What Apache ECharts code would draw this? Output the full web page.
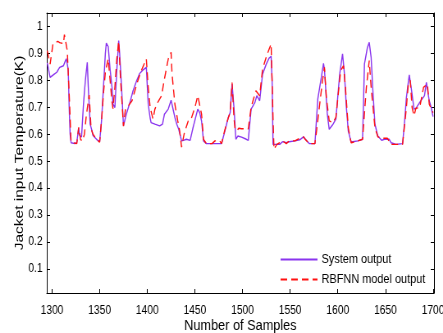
<!DOCTYPE html>
<html>
<head>
<meta charset="utf-8">
<script src="https://cdn.jsdelivr.net/npm/echarts/dist/echarts.min.js"></script>
<style>
html,body{margin:0;padding:0;background:#fff;overflow:hidden;}
#wrap{width:443px;height:333px;overflow:hidden;position:relative;}
#chart{width:540px;height:333px;transform:scaleX(0.8204);transform-origin:0 0;}
</style>
</head>
<body>
<div id="wrap"><div id="chart"></div></div>
<script>
// Tick labels
var xTicks = [1300, 1350, 1400, 1450, 1500, 1550, 1600, 1650, 1700];
var yTicks = [0.1, 0.2, 0.3, 0.4, 0.5, 0.6, 0.7, 0.8, 0.9, 1];

// System output (sample number, temperature)
var sysX = [1295,1298,1302,1305,1308,1312,1314,1315,1316,1317,1318,1319,1320,1324,1326,1328,1329,1331,1333,1335,1337,1338,1340,1342,1343,1347,1350,1352,1354,1356,1357,1359,1361,1363,1364,1366,1368,1370,1371,1373,1375,1378,1382,1385,1389,1392,1396,1399,1400,1401,1403,1404,1408,1413,1416,1418,1422,1425,1429,1431,1433,1436,1438,1441,1445,1448,1453,1455,1457,1459,1462,1478,1481,1485,1487,1489,1491,1493,1495,1499,1504,1506,1509,1513,1515,1518,1519,1521,1525,1528,1530,1531,1532,1539,1542,1546,1549,1555,1560,1564,1566,1570,1576,1577,1579,1583,1585,1586,1589,1591,1595,1598,1600,1602,1605,1607,1609,1611,1614,1621,1626,1628,1631,1633,1635,1637,1639,1642,1646,1649,1654,1656,1661,1668,1670,1672,1675,1677,1680,1682,1686,1691,1693,1696,1698,1700];
var sysY = [0.865,0.811,0.822,0.83,0.848,0.854,0.872,0.88,0.876,0.84,0.7,0.6,0.568,0.565,0.57,0.622,0.595,0.59,0.711,0.8,0.867,0.78,0.638,0.612,0.595,0.58,0.572,0.65,0.774,0.9,0.938,0.925,0.84,0.774,0.711,0.699,0.836,0.948,0.9,0.774,0.631,0.674,0.72,0.76,0.8,0.825,0.84,0.848,0.845,0.712,0.66,0.643,0.637,0.631,0.637,0.674,0.693,0.726,0.662,0.637,0.618,0.575,0.577,0.581,0.577,0.624,0.693,0.68,0.649,0.575,0.565,0.565,0.605,0.662,0.68,0.786,0.699,0.581,0.593,0.589,0.581,0.577,0.693,0.718,0.743,0.724,0.73,0.823,0.861,0.883,0.889,0.8,0.562,0.562,0.572,0.568,0.572,0.575,0.579,0.59,0.581,0.565,0.565,0.62,0.73,0.817,0.863,0.84,0.674,0.618,0.637,0.656,0.74,0.823,0.898,0.823,0.7,0.612,0.571,0.575,0.581,0.861,0.92,0.941,0.885,0.75,0.637,0.593,0.577,0.581,0.581,0.568,0.562,0.565,0.64,0.736,0.82,0.774,0.693,0.696,0.718,0.743,0.792,0.724,0.7,0.665];

// RBFNN model output
var rbfX = [1295,1298,1301,1306,1308,1312,1313,1316,1318,1320,1326,1328,1330,1332,1334,1336,1339,1341,1343,1347,1350,1352,1354,1356,1359,1361,1363,1364,1366,1368,1370,1372,1375,1377,1384,1389,1393,1399,1401,1403,1406,1408,1411,1415,1418,1422,1425,1426,1429,1432,1434,1436,1439,1443,1446,1450,1453,1457,1459,1462,1468,1471,1476,1478,1481,1485,1487,1489,1491,1492,1494,1496,1499,1506,1509,1514,1518,1521,1526,1530,1532,1533,1536,1542,1546,1549,1555,1560,1564,1566,1570,1576,1578,1581,1584,1586,1588,1591,1595,1598,1603,1606,1608,1611,1614,1621,1626,1630,1633,1635,1639,1642,1646,1652,1656,1668,1672,1674,1676,1678,1680,1682,1686,1690,1694,1696,1700];
var rbfY = [0.91,0.86,0.935,0.945,0.94,0.936,0.97,0.91,0.75,0.57,0.565,0.625,0.58,0.575,0.6,0.67,0.745,0.62,0.6,0.58,0.57,0.65,0.75,0.83,0.88,0.8,0.718,0.695,0.774,0.879,0.945,0.8,0.63,0.69,0.724,0.786,0.83,0.879,0.774,0.7,0.656,0.693,0.718,0.743,0.805,0.879,0.904,0.823,0.711,0.649,0.612,0.552,0.606,0.649,0.656,0.699,0.743,0.674,0.581,0.565,0.565,0.575,0.575,0.565,0.61,0.66,0.68,0.792,0.66,0.624,0.612,0.622,0.62,0.62,0.7,0.761,0.743,0.842,0.898,0.935,0.66,0.544,0.562,0.575,0.565,0.575,0.575,0.585,0.59,0.58,0.565,0.565,0.62,0.711,0.8,0.848,0.736,0.649,0.643,0.662,0.836,0.854,0.774,0.624,0.568,0.575,0.581,0.774,0.873,0.774,0.624,0.59,0.585,0.585,0.562,0.562,0.699,0.786,0.8,0.699,0.668,0.696,0.699,0.774,0.786,0.711,0.68];

var seriesNames = ['System output', 'RBFNN model output'];

function zip(xs, ys) { return xs.map(function (x, i) { return [x, ys[i]]; }); }

var font = "'Liberation Sans', Arial, sans-serif";
var X_MIN = 1294.5, X_MAX = 1701, Y_MIN = 0.01, Y_MAX = 1.05;
function plain(v) { return String(v); }

var axisLine = { show: true, onZero: false, lineStyle: { color: '#000', width: 1 } };

var chart = echarts.init(document.getElementById('chart'), null, { renderer: 'canvas' });
chart.setOption({
  animation: false,
  backgroundColor: '#fff',
  grid: { left: 57, right: 11, top: 13, bottom: 40, containLabel: false, outerBoundsMode: 'none' },
  legend: {
    data: seriesNames,
    orient: 'vertical',
    left: 336,
    top: 248,
    itemWidth: 45,
    itemHeight: 14,
    itemGap: 7,
    itemStyle: { opacity: 0 },
    textStyle: { fontFamily: font, fontSize: 13.3, color: '#000' }
  },
  xAxis: [
    {
      type: 'value', min: X_MIN, max: X_MAX, position: 'bottom',
      axisLine: axisLine,
      axisTick: { show: true, inside: true, length: 4, customValues: xTicks, lineStyle: { color: '#000' } },
      axisLabel: { customValues: xTicks, formatter: plain, fontFamily: font, fontSize: 12.5, color: '#000', margin: 11 },
      splitLine: { show: false },
      name: 'Number of Samples', nameLocation: 'middle', nameGap: 25, nameMoveOverlap: false,
      nameTextStyle: { fontFamily: font, fontSize: 15.5, color: '#000' }
    },
    {
      type: 'value', min: X_MIN, max: X_MAX, position: 'top',
      axisLine: axisLine,
      axisTick: { show: true, inside: true, length: 4, customValues: xTicks, lineStyle: { color: '#000' } },
      axisLabel: { show: false },
      splitLine: { show: false }
    }
  ],
  yAxis: [
    {
      type: 'value', min: Y_MIN, max: Y_MAX, position: 'left',
      axisLine: axisLine,
      axisTick: { show: true, inside: true, length: 4, customValues: yTicks, lineStyle: { color: '#000' } },
      axisLabel: { customValues: yTicks, formatter: plain, fontFamily: font, fontSize: 12.5, color: '#000', margin: 5 },
      splitLine: { show: false },
      name: 'Jacket input Temperature(K)', nameLocation: 'middle', nameGap: 25, nameMoveOverlap: false,
      nameTextStyle: { fontFamily: font, fontSize: 15.5, color: '#000' }
    },
    {
      type: 'value', min: Y_MIN, max: Y_MAX, position: 'right',
      axisLine: axisLine,
      axisTick: { show: true, inside: true, length: 4, customValues: yTicks, lineStyle: { color: '#000' } },
      axisLabel: { show: false },
      splitLine: { show: false }
    }
  ],
  series: [
    {
      name: seriesNames[0], type: 'line', xAxisIndex: 0, yAxisIndex: 0,
      data: zip(sysX, sysY), symbol: 'none', showSymbol: false,
      lineStyle: { color: '#8a35ee', width: 1.4 }, itemStyle: { color: '#8a35ee' }
    },
    {
      name: seriesNames[1], type: 'line', xAxisIndex: 0, yAxisIndex: 0,
      data: zip(rbfX, rbfY), symbol: 'none', showSymbol: false,
      lineStyle: { color: '#ff1010', width: 1.4, type: [8, 5] }, itemStyle: { color: '#ff1010' }
    }
  ]
});
</script>
</body>
</html>
